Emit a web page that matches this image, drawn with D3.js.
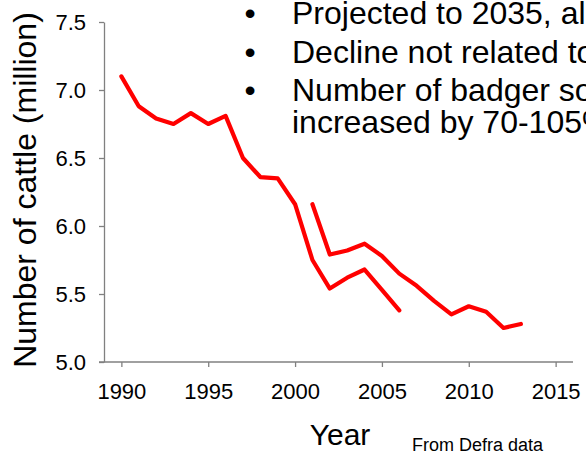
<!DOCTYPE html>
<html>
<head>
<meta charset="utf-8">
<script src="https://cdn.jsdelivr.net/npm/d3@7"></script>
<style>
html,body{margin:0;padding:0;background:#fff;overflow:hidden;}
svg{display:block;font-family:"Liberation Sans",Arial,sans-serif;}
</style>
</head>
<body>
<svg id="chart" width="586" height="451"></svg>
<script>
const years1 = [1990,1991,1992,1993,1994,1995,1996,1997,1998,1999,2000,2001,2002,2003,2004,2005,2006];
const cattle1 = [7.10,6.88,6.79,6.75,6.83,6.75,6.81,6.50,6.36,6.35,6.16,5.75,5.54,5.62,5.68,5.53,5.38];
const years2 = [2001,2002,2003,2004,2005,2006,2007,2008,2009,2010,2011,2012,2013];
const cattle2 = [6.16,5.79,5.82,5.87,5.78,5.65,5.56,5.45,5.35,5.41,5.37,5.25,5.28];
const xTicks = [1990,1995,2000,2005,2010,2015];
const yTicks = [5.0,5.5,6.0,6.5,7.0,7.5];
const bullets = [
  ["Projected to 2035, al"],
  ["Decline not related to"],
  ["Number of badger so", "increased by 70-105%"]
];
const yTitle = "Number of cattle (million)";
const xTitle = "Year";
const note = "From Defra data";

const svg = d3.select("#chart");
const x = d3.scaleLinear().domain([1989, 2016]).range([104, 573]);
const y = d3.scaleLinear().domain([5, 7.5]).range([362, 22]);
const axisColor = "#808080";

// Y axis
const gy = svg.append("g").attr("transform", "translate(104,0)")
  .call(d3.axisLeft(y).tickValues(yTicks).tickFormat(d3.format(".1f")).tickSize(5).tickSizeOuter(0).tickPadding(13));
gy.select(".domain").attr("stroke", axisColor).attr("stroke-width", 1.3);
gy.selectAll(".tick line").attr("stroke", axisColor).attr("stroke-width", 1.3);
gy.selectAll(".tick text").attr("fill", "#000").style("font-size", "22px").attr("font-family", null);

// X axis
const gx = svg.append("g").attr("transform", "translate(0,362)")
  .call(d3.axisBottom(x).tickValues(xTicks).tickFormat(d3.format("d")).tickSize(5).tickSizeOuter(0).tickPadding(16));
gx.select(".domain").remove();
gx.append("line").attr("x1", 99).attr("x2", 573).attr("y1", 0).attr("y2", 0)
  .attr("stroke", axisColor).attr("stroke-width", 1.3);
gx.selectAll(".tick line").attr("stroke", axisColor).attr("stroke-width", 1.3);
gx.selectAll(".tick text").attr("fill", "#000").style("font-size", "22px").attr("font-family", null);

// Lines
const line = d3.line().x(d => x(d[0])).y(d => y(d[1]));
[[years1, cattle1],[years2, cattle2]].forEach(([ys, vs]) => {
  svg.append("path").datum(ys.map((yr, i) => [yr, vs[i]]))
    .attr("d", line).attr("fill", "none").attr("stroke", "#ff0000")
    .attr("stroke-width", 4.2).attr("stroke-linejoin", "round").attr("stroke-linecap", "round");
});

// Titles
svg.append("text").attr("transform", "translate(36,190) rotate(-90)")
  .attr("text-anchor", "middle").style("font-size", "32px").text(yTitle);
svg.append("text").attr("x", 340).attr("y", 445).attr("text-anchor", "middle")
  .style("font-size", "30px").text(xTitle);
svg.append("text").attr("x", 412).attr("y", 451).style("font-size", "18px").text(note);

// Bullets
const baselines = [24, 62.5, 100.5];
bullets.forEach((lines, i) => {
  svg.append("text").attr("x", 250).attr("y", baselines[i]).attr("text-anchor", "middle")
    .style("font-size", "32px").text("\u2022");
  lines.forEach((t, j) => {
    svg.append("text").attr("x", 292).attr("y", baselines[i] + j * 32)
      .style("font-size", "32px").text(t);
  });
});
</script>
</body>
</html>
